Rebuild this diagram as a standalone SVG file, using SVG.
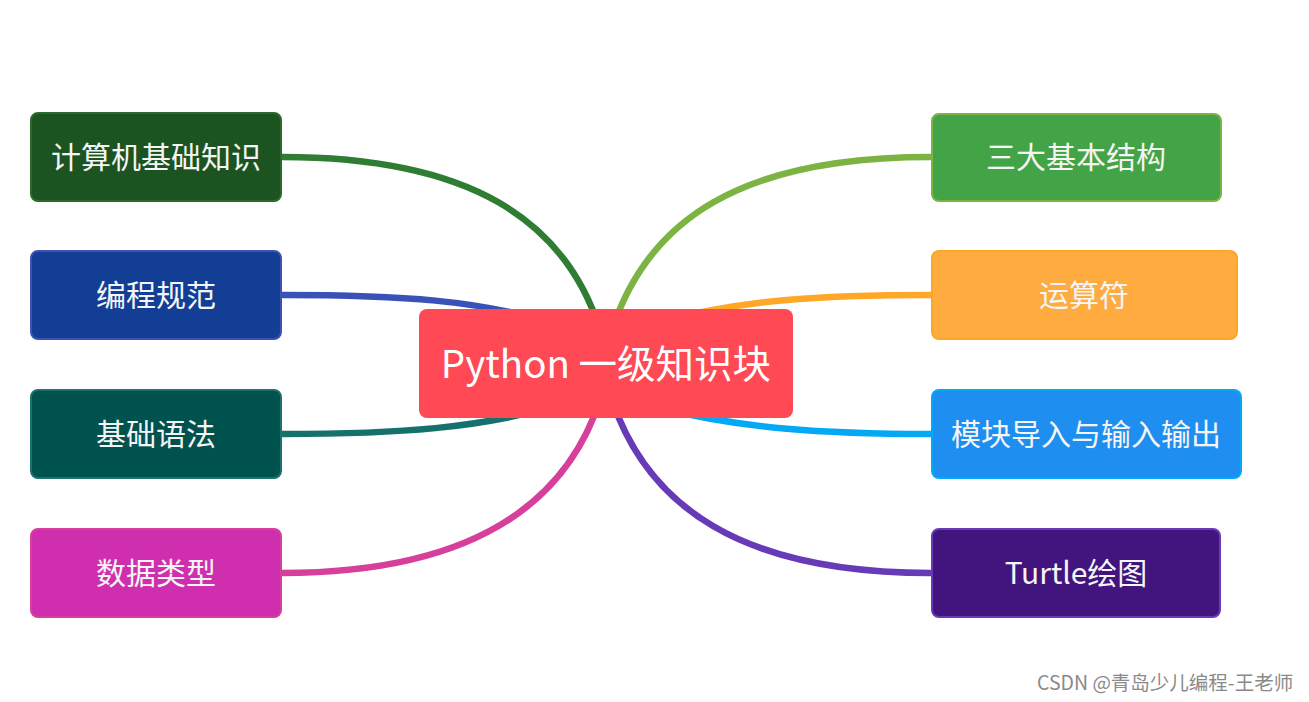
<svg xmlns="http://www.w3.org/2000/svg" width="1309" height="702" viewBox="0 0 1309 702">
<style>
.bg{fill:#ffffff}
.c{fill:none;stroke-width:6.5;stroke-linecap:round}
.n{stroke-width:2}
.t{font-family:"Microsoft YaHei","Noto Sans CJK SC","Noto Sans",sans-serif;font-size:30px;fill:#f5f5f5;text-anchor:middle}
.rt{font-family:"Microsoft YaHei","Noto Sans CJK SC","Noto Sans",sans-serif;font-size:38.5px;fill:#ffffff;text-anchor:middle}
.wm{font-family:"Microsoft YaHei","Noto Sans CJK SC","Noto Sans",sans-serif;font-size:19.5px;fill:#8a8a8a}
</style>
<rect class="bg" x="0" y="0" width="1309" height="702"/>
<g id="connectors">
<path class="c" stroke="#2e7d32" d="M282,157 C470,157 565,220 600,330"/>
<path class="c" stroke="#3a52b8" d="M282,295 C400,295 480,300 560,325"/>
<path class="c" stroke="#16716d" d="M282,434 C400,434 480,428 560,405"/>
<path class="c" stroke="#d6409a" d="M282,573 C470,573 565,506 600,400"/>
<path class="c" stroke="#7cb342" d="M931,157 C740,157 648,220 612,330"/>
<path class="c" stroke="#ffa726" d="M931,295 C820,295 740,300 660,322"/>
<path class="c" stroke="#03a9f4" d="M931,434 C820,434 740,428 660,408"/>
<path class="c" stroke="#673ab7" d="M931,573 C740,573 648,506 612,400"/>
</g>
<g id="root">
<rect x="419" y="309" width="374" height="109" rx="8" fill="#ff4954"/>
<text class="rt" x="606" y="378">Python 一级知识块</text>
</g>
<g id="n-left-1">
<rect class="n" x="31" y="113" width="250" height="88" rx="7" fill="#1b5420" stroke="#2a6a2c"/>
<text class="t" x="156" y="168">计算机基础知识</text>
</g>
<g id="n-left-2">
<rect class="n" x="31" y="251" width="250" height="88" rx="7" fill="#123e96" stroke="#3f51b5"/>
<text class="t" x="156" y="306">编程规范</text>
</g>
<g id="n-left-3">
<rect class="n" x="31" y="390" width="250" height="88" rx="7" fill="#00524f" stroke="#1a736e"/>
<text class="t" x="156" y="445">基础语法</text>
</g>
<g id="n-left-4">
<rect class="n" x="31" y="529" width="250" height="88" rx="7" fill="#cf2fae" stroke="#d6409a"/>
<text class="t" x="156" y="584">数据类型</text>
</g>
<g id="n-right-1">
<rect class="n" x="932" y="114" width="289" height="87" rx="7" fill="#43a447" stroke="#7cb342"/>
<text class="t" x="1076" y="168">三大基本结构</text>
</g>
<g id="n-right-2">
<rect class="n" x="932" y="251" width="305" height="88" rx="7" fill="#ffab40" stroke="#f9a825"/>
<text class="t" x="1084" y="306">运算符</text>
</g>
<g id="n-right-3">
<rect class="n" x="932" y="390" width="309" height="88" rx="7" fill="#1e8ff0" stroke="#03a9f4"/>
<text class="t" x="1086" y="445">模块导入与输入输出</text>
</g>
<g id="n-right-4">
<rect class="n" x="932" y="529" width="288" height="88" rx="7" fill="#42157e" stroke="#673ab7"/>
<text class="t" x="1076" y="584">Turtle绘图</text>
</g>
<text class="wm" x="1037" y="690">CSDN @青岛少儿编程-王老师</text>
</svg>
